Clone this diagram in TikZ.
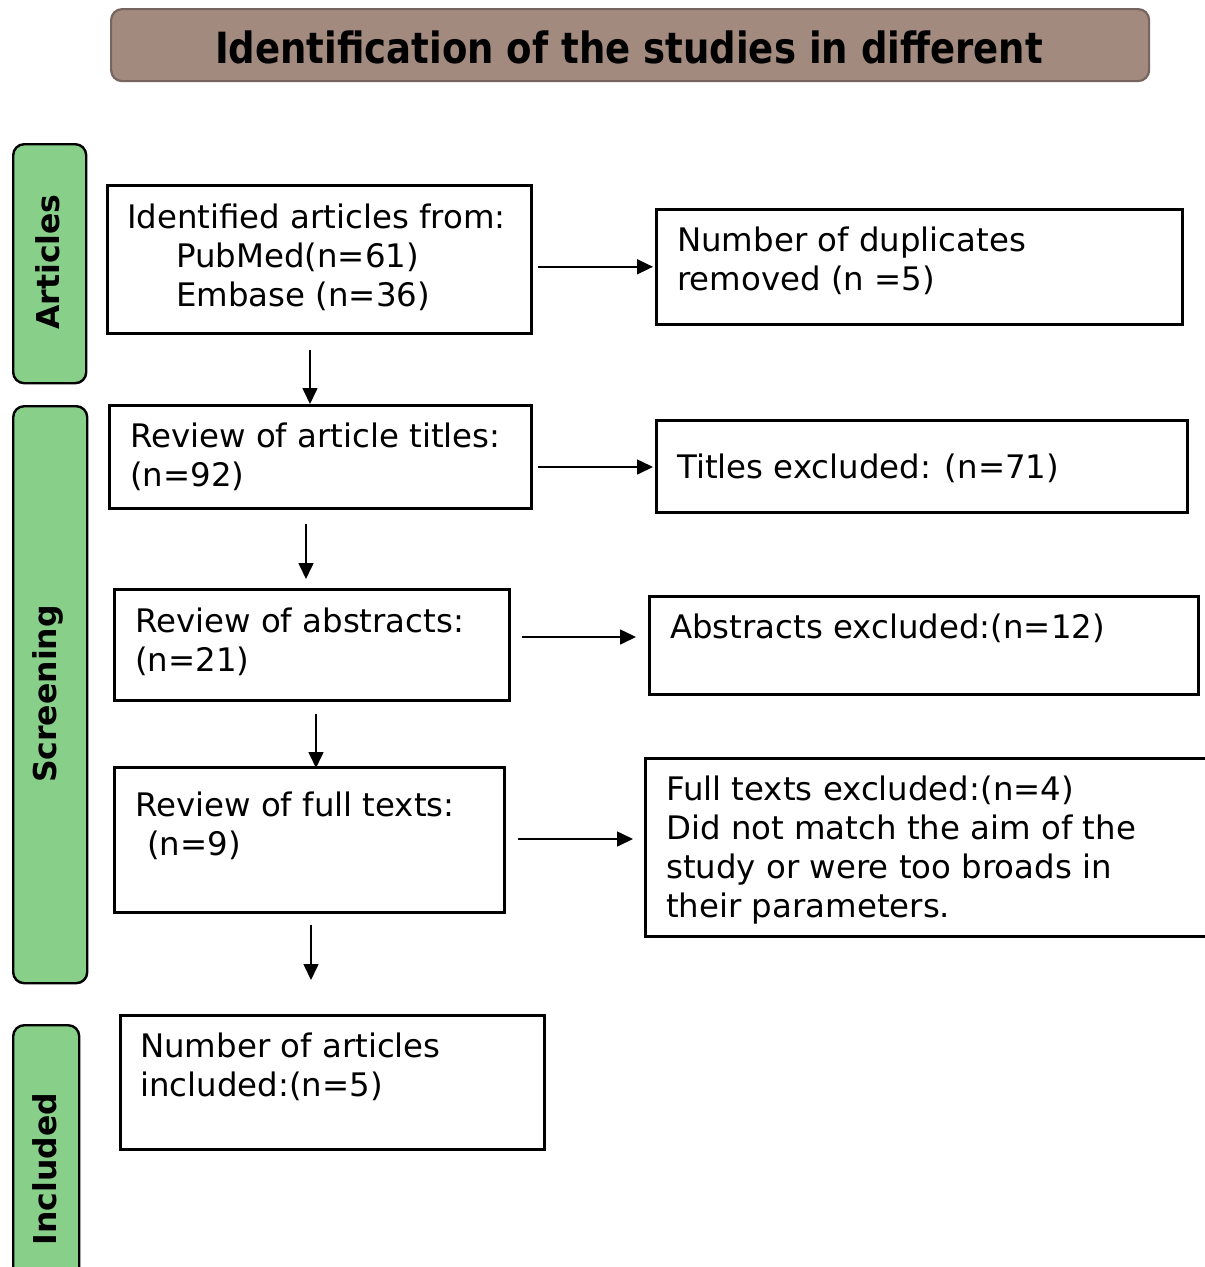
\documentclass[tikz,border=0pt]{standalone}
\usepackage{fontspec}
\setmainfont{DejaVu Sans}
\usetikzlibrary{arrows.meta,calc}
\definecolor{titlefill}{HTML}{A38A7F}
\definecolor{titledraw}{HTML}{75655E}
\definecolor{sidegreen}{HTML}{88CF8A}
\newcommand\mlines[1]{\begin{tabular}[t]{@{}l@{}}#1\end{tabular}}
\tikzset{
  box/.style={draw=black, line width=2.6pt, fill=white, inner sep=0pt, anchor=north west},
  sidebox/.style={draw=black, line width=2.4pt, fill=sidegreen, rounded corners=11pt, inner sep=0pt, anchor=north west},
  sidetext/.style={rotate=90, font=\fontsize{31.5}{37}\selectfont\bfseries, inner sep=0pt},
  txt/.style={anchor=base west, inner sep=0pt, font=\fontsize{32.4}{39}\selectfont},
  arr/.style={draw=black, line width=1.6pt, -{Triangle[length=16pt,width=15pt]}}
}
\begin{document}
\begin{tikzpicture}[x=1pt,y=-1pt]
\useasboundingbox (0,0) rectangle (1205,1267);
% title
\node[draw=titledraw, line width=2.2pt, fill=titlefill, rounded corners=11pt, anchor=north west,
      minimum width=1038pt, minimum height=72pt, inner sep=0pt] (title) at (110,8) {};
\node[anchor=base, inner sep=0pt, font=\fontsize{43}{50}\selectfont\bfseries] (titlet) at (629,63)
  {\scalebox{0.862}[1]{Identification of the studies in different}};
% side labels
\node[sidebox, minimum width=73pt, minimum height=239pt] (sA) at (12,143) {};
\node[sidetext] (sAt) at (48,262) {Articles};
\node[sidebox, minimum width=74pt, minimum height=577pt] (sS) at (12,405) {};
\node[sidetext] (sSt) at (48,694) {Screening};
\node[sidebox, minimum width=66pt, minimum height=270pt] (sI) at (12,1024) {};
\node[sidetext] (sIt) at (45,1169) {Included};
% main boxes
\node[box, minimum width=424pt, minimum height=148pt] (b1) at (106,184) {};
\node[txt] (b1t) at (127,228) {\mlines{Identified articles from:\\\hspace*{49pt}PubMed(n=61)\\\hspace*{49pt}Embase (n=36)}};
\node[box, minimum width=422pt, minimum height=103pt] (b2) at (108,404) {};
\node[txt] (b2t) at (130,447) {\mlines{Review of article titles:\\(n=92)}};
\node[box, minimum width=395pt, minimum height=111pt] (b3) at (113,588) {};
\node[txt] (b3t) at (135,632) {\mlines{Review of abstracts:\\(n=21)}};
\node[box, minimum width=390pt, minimum height=145pt] (b4) at (113,766) {};
\node[txt] (b4t) at (135,816) {\mlines{Review of full texts:\\\hspace*{12pt}(n=9)}};
\node[box, minimum width=424pt, minimum height=134pt] (b5) at (119,1014) {};
\node[txt] (b5t) at (140,1057) {\mlines{Number of articles\\included:(n=5)}};
% side boxes
\node[box, minimum width=526pt, minimum height=115pt] (d1) at (655,208) {};
\node[txt] (d1t) at (677,251) {\mlines{Number of duplicates\\removed (n =5)}};
\node[box, minimum width=531pt, minimum height=92pt] (d2) at (655,419) {};
\node[txt] (d2t) at (677,478) {Titles excluded: (n=71)};
\node[box, minimum width=549pt, minimum height=98pt] (d3) at (648,595) {};
\node[txt] (d3t) at (670,638) {Abstracts excluded:(n=12)};
\node[box, minimum width=580pt, minimum height=178pt] (d4) at (644,757) {};
\node[txt] (d4t) at (666,800) {\mlines{Full texts excluded:(n=4)\\Did not match the aim of the\\study or were too broads in\\their parameters.}};
% horizontal arrows
\draw[arr, shorten <=5pt, shorten >=2pt] (b1.east |- d1.west) -- (d1.west);
\draw[arr, shorten <=5pt, shorten >=2pt] (b2.east |- 0,467) coordinate (a2s) -- (d2.west |- a2s);
\draw[arr, shorten <=11pt, shorten >=12pt] (b3.east |- 0,637) coordinate (a3s) -- (d3.west |- a3s);
\draw[arr, shorten <=12pt, shorten >=11pt] (b4.east |- 0,839) coordinate (a4s) -- (d4.west |- a4s);
% vertical arrows
\draw[arr, shorten <=15pt] (b1.south -| 310,0) coordinate (v1) -- (b2.north -| v1);
\draw[arr, shorten <=14pt, shorten >=9pt] (b2.south -| 306,0) coordinate (v2) -- (b3.north -| v2);
\draw[arr, shorten <=12pt, shorten >=-2pt] (b3.south -| 316,0) coordinate (v3) -- (b4.north -| v3);
\draw[arr, shorten <=11pt, shorten >=34pt] (b4.south -| 311,0) coordinate (v4) -- (b5.north -| v4);
\end{tikzpicture}
\end{document}
